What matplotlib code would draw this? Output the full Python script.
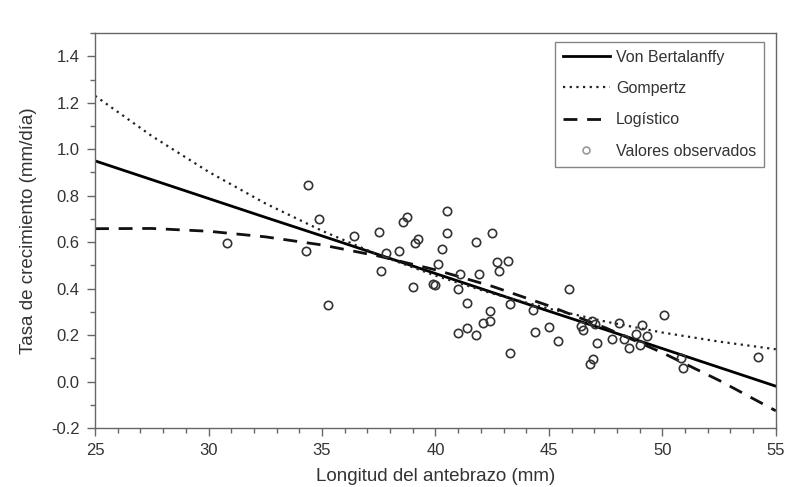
import numpy as np
import matplotlib.pyplot as plt
from matplotlib.ticker import MultipleLocator

# curve values at x = 25, 27.5, ..., 55
curve_x = [25, 27.5, 30, 32.5, 35, 37.5, 40, 42.5, 45, 47.5, 50, 52.5, 55]
von_bertalanffy = [0.950, 0.869, 0.788, 0.707, 0.627, 0.546, 0.465,
                   0.384, 0.303, 0.223, 0.142, 0.061, -0.020]
gompertz = [1.230, 1.057, 0.903, 0.767, 0.649, 0.545, 0.456,
            0.379, 0.314, 0.258, 0.211, 0.172, 0.139]
logistico = [0.658, 0.659, 0.647, 0.623, 0.588, 0.540, 0.481,
             0.410, 0.326, 0.231, 0.124, 0.005, -0.126]

# observed values
obs_x = [30.8, 34.4, 34.3, 34.85, 35.25, 36.4, 37.5, 37.6, 37.8, 38.4,
         38.55, 38.75, 39.1, 39.25, 40.5, 40.5, 40.3, 41.8, 42.5, 39.0,
         39.9, 40.0, 40.1, 41.1, 41.0, 41.9, 42.7, 43.2, 42.8, 41.4,
         43.3, 44.3, 42.4, 42.4, 42.1, 41.4, 41.0, 41.8, 43.3, 44.4,
         45.0, 45.4, 45.9, 46.4, 46.5, 46.9, 47.05, 47.1, 46.8, 46.95,
         47.8, 48.1, 48.3, 48.55, 48.85, 49.1, 49.3, 49.0, 50.05, 50.8,
         50.9, 54.2]
obs_y = [0.595, 0.848, 0.561, 0.700, 0.330, 0.626, 0.643, 0.474, 0.552, 0.561,
         0.687, 0.709, 0.596, 0.613, 0.735, 0.640, 0.570, 0.600, 0.640, 0.409,
         0.420, 0.417, 0.504, 0.465, 0.400, 0.465, 0.513, 0.517, 0.474, 0.339,
         0.335, 0.309, 0.304, 0.261, 0.252, 0.230, 0.209, 0.200, 0.122, 0.213,
         0.235, 0.174, 0.400, 0.239, 0.220, 0.261, 0.248, 0.165, 0.074, 0.096,
         0.183, 0.252, 0.183, 0.144, 0.204, 0.243, 0.196, 0.157, 0.287, 0.100,
         0.057, 0.104]

plt.rcParams['font.family'] = ['Liberation Sans', 'DejaVu Sans']
text_col = '#333333'
edge_col = '#666666'

fig = plt.figure(figsize=(7.88, 4.87), dpi=100)
ax = fig.add_axes([0.1206, 0.1211, 0.864, 0.811])

ax.plot(curve_x, von_bertalanffy, color='black', lw=2.0, ls='-',
        label='Von Bertalanffy')
ax.plot(curve_x, gompertz, color='#222222', lw=1.6, ls=(0, (1, 2)),
        label='Gompertz')
ax.plot(curve_x, logistico, color='#111111', lw=2.0, ls=(0, (5, 3.5)),
        label='Logístico')
ax.plot(obs_x, obs_y, ls='none', marker='o', ms=6, mfc='none',
        mec='#333333', mew=1.2, label='Valores observados')

ax.set_xlim(25, 55)
ax.set_ylim(-0.2, 1.5)
ax.xaxis.set_major_locator(MultipleLocator(5))
ax.xaxis.set_minor_locator(MultipleLocator(1))
ax.set_yticks(np.arange(-0.2, 1.41, 0.2))
ax.yaxis.set_minor_locator(MultipleLocator(0.1))
ax.set_yticklabels([f'{v:.1f}' for v in np.arange(-0.2, 1.41, 0.2)])

for s in ax.spines.values():
    s.set_color(edge_col)
    s.set_linewidth(1.0)
ax.tick_params(which='major', direction='out', length=6, width=1,
               color=edge_col, labelsize=12, labelcolor=text_col, pad=5)
ax.tick_params(which='minor', direction='out', length=3.5, width=1,
               color=edge_col)

ax.set_xlabel('Longitud del antebrazo (mm)', fontsize=13.5, color=text_col,
              labelpad=7)
ax.set_ylabel('Tasa de crecimiento (mm/día)', fontsize=13.5, color=text_col,
              labelpad=10)

leg = ax.legend(loc='upper right', bbox_to_anchor=(0.99, 0.99),
                fontsize=11.5, frameon=True, fancybox=False,
                edgecolor=edge_col, handlelength=2.9, handletextpad=0.4,
                labelspacing=1.02, borderpad=0.5, borderaxespad=0.3,
                labelcolor=text_col)
leg.get_frame().set_linewidth(1.0)
leg.legend_handles[3].set_markersize(5)
leg.legend_handles[3].set_markeredgecolor('#999999')

fig.savefig('out.png', dpi=100)
